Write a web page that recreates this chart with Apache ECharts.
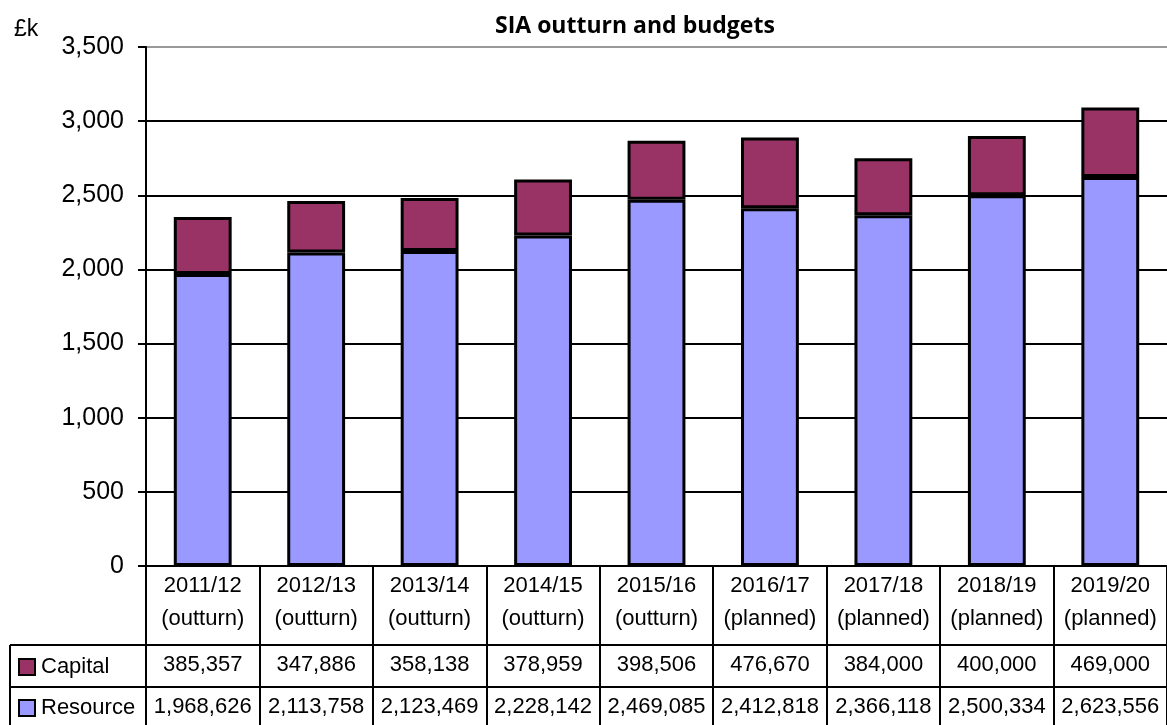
<!DOCTYPE html>
<html>
<head>
<meta charset="utf-8">
<title>SIA outturn and budgets</title>
<script src="https://cdn.jsdelivr.net/npm/echarts@6/dist/echarts.min.js"></script>
<style>
  html, body { margin: 0; padding: 0; background: #fff; }
  #chart { width: 1167px; height: 725px; }
</style>
</head>
<body>
<div id="chart"></div>
<script>
// data (values in £, axis in £k)
const years = ['2011/12', '2012/13', '2013/14', '2014/15', '2015/16', '2016/17', '2017/18', '2018/19', '2019/20'];
const status = ['outturn', 'outturn', 'outturn', 'outturn', 'outturn', 'planned', 'planned', 'planned', 'planned'];
const capital = [385357, 347886, 358138, 378959, 398506, 476670, 384000, 400000, 469000];
const resource = [1968626, 2113758, 2123469, 2228142, 2469085, 2412818, 2366118, 2500334, 2623556];
const yTicks = [0, 500, 1000, 1500, 2000, 2500, 3000, 3500];

const FONT = '"Liberation Sans", Arial, sans-serif';
const fmt = v => v.toLocaleString('en-GB');

const chart = echarts.init(document.getElementById('chart'));

const legendBase = {
  orient: 'vertical',
  left: 18,
  padding: 0,
  icon: 'rect',
  itemWidth: 16, itemHeight: 16,
  selectedMode: false,
  itemStyle: { borderColor: '#000', borderWidth: 2 },
  textStyle: { fontFamily: FONT, fontSize: 22, color: '#000', padding: [0, 0, 0, 1] }
};

const option = {
  animation: false,
  title: [
    {
      text: 'SIA outturn and budgets',
      left: 490, top: 10,
      textStyle: { fontFamily: '"Open Sans", Lato, sans-serif', fontWeight: 'bold', fontSize: 23, color: '#000' }
    },
    {
      text: '£k',
      left: 9, top: 13,
      textStyle: { fontFamily: FONT, fontWeight: 'normal', fontSize: 23, color: '#000' }
    }
  ],
  legend: [
    Object.assign({}, legendBase, { data: ['Capital'], top: 656 }),
    Object.assign({}, legendBase, { data: ['Resource'], top: 697 })
  ],
  grid: { left: 146, right: -5, top: 47, bottom: 159 },
  xAxis: {
    type: 'category',
    data: years,
    axisLine: { lineStyle: { color: '#000', width: 2 } },
    axisTick: { show: true, length: 162, interval: 0, lineStyle: { color: '#000', width: 2 } },
    axisLabel: {
      interval: 0,
      margin: 3,
      formatter: (val, i) =>
        '{y|' + val + '}\n{s|(' + status[i] + ')}\n{c|' + fmt(capital[i]) + '}\n{r|' + fmt(resource[i]) + '}',
      rich: {
        y: { fontFamily: FONT, fontSize: 22, lineHeight: 33, color: '#000' },
        s: { fontFamily: FONT, fontSize: 22, lineHeight: 33, color: '#000' },
        c: { fontFamily: FONT, fontSize: 22, lineHeight: 60, color: '#000' },
        r: { fontFamily: FONT, fontSize: 22, lineHeight: 24, color: '#000' }
      }
    }
  },
  yAxis: {
    type: 'value',
    min: yTicks[0],
    max: yTicks[yTicks.length - 1],
    interval: 500,
    axisLine: { show: true, lineStyle: { color: '#000', width: 2 } },
    axisTick: { show: true, length: 8, lineStyle: { color: '#000', width: 2 } },
    axisLabel: {
      margin: 22,
      fontFamily: FONT, fontSize: 25, color: '#000',
      formatter: v => fmt(v)
    },
    splitLine: {
      lineStyle: {
        width: 2,
        color: yTicks.map((t, i) => (i === yTicks.length - 1 ? '#999999' : '#000000'))
      }
    }
  },
  series: [
    {
      name: 'Resource',
      type: 'bar',
      stack: 'total',
      barWidth: '51%',
      data: resource.map(v => v / 1000),
      itemStyle: { color: '#9999FF', borderColor: '#000', borderWidth: 3 }
    },
    {
      name: 'Capital',
      type: 'bar',
      stack: 'total',
      barWidth: '51%',
      data: capital.map(v => v / 1000),
      itemStyle: { color: '#993366', borderColor: '#000', borderWidth: 3 }
    }
  ],
  graphic: [
    // data table frame lines (legend column)
    { type: 'line', shape: { x1: 10, y1: 645, x2: 1167, y2: 645 }, style: { stroke: '#000', lineWidth: 2 } },
    { type: 'line', shape: { x1: 10, y1: 687, x2: 1167, y2: 687 }, style: { stroke: '#000', lineWidth: 2 } },
    { type: 'line', shape: { x1: 10, y1: 645, x2: 10, y2: 725 }, style: { stroke: '#000', lineWidth: 2 } }
  ]
};

chart.setOption(option);
</script>
</body>
</html>
